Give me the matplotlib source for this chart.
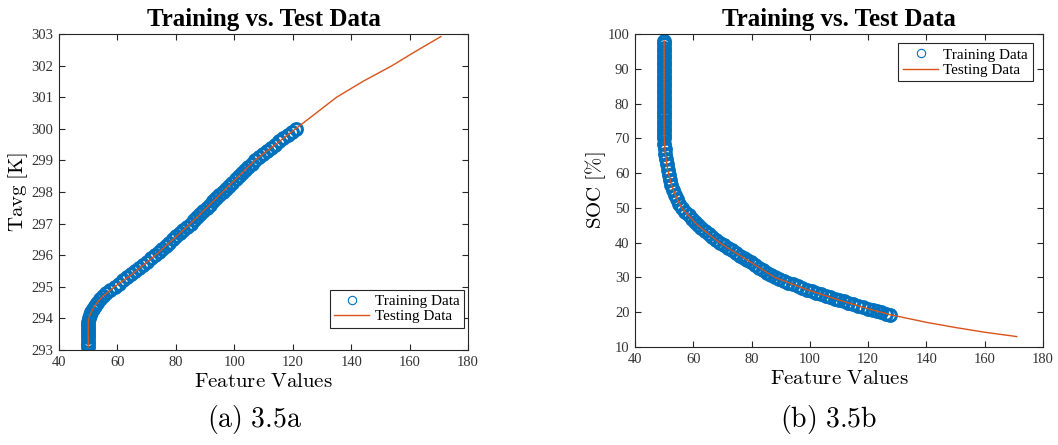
import matplotlib
matplotlib.use('Agg')
import matplotlib.pyplot as plt

# Left panel: Tavg vs feature value
tavg_train_x = [50.0, 50.0, 50.0, 50.0, 50.0, 50.0, 50.0, 50.0, 50.0,
                50.2, 50.5, 51.0, 51.6, 52.3, 53.0, 53.9, 54.9, 56.0, 57.4, 59.0,
                60.4, 61.8, 63.2, 64.6, 66.0, 67.4, 68.8, 70.2, 71.6, 73.0,
                74.2, 75.4, 76.6, 77.8, 79.0, 80.2, 81.4, 82.6, 83.8, 85.0,
                86.1, 87.2, 88.3, 89.4, 90.5, 91.6, 92.7, 93.8, 94.9, 96.0,
                97.1, 98.2, 99.3, 100.4, 101.5, 102.6, 103.7, 104.8, 105.9, 107.0,
                108.4, 109.8, 111.2, 112.6, 114.0, 115.4, 116.8, 118.2, 119.6, 121.0]
tavg_train_y = [293.1, 293.2, 293.3, 293.4, 293.5, 293.6, 293.7, 293.8, 293.9,
                294.0, 294.1, 294.2, 294.3, 294.4, 294.5, 294.6, 294.7, 294.8, 294.9, 295.0,
                295.1, 295.2, 295.3, 295.4, 295.5, 295.6, 295.7, 295.8, 295.9, 296.0,
                296.1, 296.2, 296.3, 296.4, 296.5, 296.6, 296.7, 296.8, 296.9, 297.0,
                297.1, 297.2, 297.3, 297.4, 297.5, 297.6, 297.7, 297.8, 297.9, 298.0,
                298.1, 298.2, 298.3, 298.4, 298.5, 298.6, 298.7, 298.8, 298.9, 299.0,
                299.1, 299.2, 299.3, 299.4, 299.5, 299.6, 299.7, 299.8, 299.9, 300.0]
tavg_test_x = [50.0, 50.0, 50.5, 51.6, 53.0, 55.0, 59.0, 65.0, 73.0, 79.0, 85.0,
               90.5, 96.0, 101.5, 107.0, 114.0, 121.0, 128.0, 135.0, 144.0, 154.0,
               162.0, 170.7]
tavg_test_y = [293.1, 293.9, 294.1, 294.3, 294.5, 294.7, 295.0, 295.4, 296.0, 296.5, 297.0,
               297.5, 298.0, 298.5, 299.0, 299.5, 300.0, 300.5, 301.0, 301.5, 302.0,
               302.45, 302.92]

# Right panel: SOC vs feature value
soc_train_x = [50.0, 50.0, 50.0, 50.0, 50.0, 50.0, 50.0, 50.0, 50.0, 50.0,
               50.0, 50.0, 50.0, 50.0, 50.0, 50.0, 50.0, 50.0, 50.0, 50.0,
               50.0, 50.0, 50.0, 50.0, 50.0, 50.0, 50.0, 50.0, 50.0,
               50.1, 50.2, 50.4, 50.6, 50.9, 51.2, 51.6, 52.0, 52.5, 53.1,
               53.8, 54.5, 55.2, 56.0, 57.2, 58.4, 59.6, 60.6, 61.5,
               62.8, 64.0, 65.3, 66.5, 67.8, 69.0,
               70.4, 71.8, 73.2, 74.6, 76.0, 77.3, 78.5,
               79.8, 81.2, 82.6, 84.0, 85.4, 86.7, 88.0,
               89.5, 91.0, 92.6, 94.2, 95.8, 97.4, 99.0,
               100.6, 102.2, 103.8, 105.4, 107.0, 108.5, 110.0,
               111.6, 113.2, 114.8, 116.4, 118.2, 120.0,
               121.5, 123.0, 124.5, 126.0, 127.5]
soc_train_y = [98, 97, 96, 95, 94, 93, 92, 91, 90, 89,
               88, 87, 86, 85, 84, 83, 82, 81, 80, 79,
               78, 77, 76, 75, 74, 73, 72, 71, 70,
               68.5, 67.0, 65.5, 64.0, 62.5, 61.0, 59.5, 58.0, 56.6, 55.2,
               53.8, 52.5, 51.2, 50.0, 48.9, 47.9, 46.8, 45.9, 45.0,
               44.1, 43.3, 42.5, 41.6, 40.8, 40.0,
               39.25, 38.5, 37.8, 37.05, 36.3, 35.6, 35.0,
               34.3, 33.6, 32.8, 32.1, 31.4, 30.7, 30.0,
               29.5, 29.0, 28.5, 28.0, 27.5, 27.0, 26.5,
               26.05, 25.6, 25.15, 24.7, 24.3, 23.9, 23.5,
               23.1, 22.7, 22.3, 21.85, 21.45, 21.0,
               20.65, 20.3, 19.95, 19.6, 19.3]
soc_test_x = [50.0, 50.0, 50.4, 51.2, 52.5, 53.8, 56.0, 61.5, 69.0, 78.5, 88.0,
              99.0, 110.0, 120.0, 127.5, 140.0, 150.0, 160.0, 171.0]
soc_test_y = [98.0, 70.0, 65.5, 61.0, 56.6, 53.8, 50.0, 45.0, 40.0, 35.0, 30.0,
              26.5, 23.5, 21.0, 19.3, 17.1, 15.6, 14.25, 13.0]

blue = '#0072BD'
orange = '#D95319'
axcol = '#262626'

plt.rcParams['font.family'] = ['Liberation Serif', 'DejaVu Serif']
plt.rcParams['mathtext.fontset'] = 'cm'

fig = plt.figure(figsize=(10.58, 4.45), dpi=100)
ax1 = fig.add_axes([0.0558, 0.2135, 0.3866, 0.710])
ax2 = fig.add_axes([0.6002, 0.2202, 0.3856, 0.7034])


def style(ax):
    for s in ax.spines.values():
        s.set_color(axcol)
        s.set_linewidth(0.8)
    ax.tick_params(direction='in', top=True, right=True, length=4, width=0.8,
                   colors=axcol, labelsize=10.5, labelcolor='#333333', pad=4)
    ax.set_title('Training vs. Test Data', fontsize=18, fontweight='bold', pad=6)
    ax.set_xlabel(r'$\mathrm{Feature\ Values}$', fontsize=15, labelpad=3)


def legend(ax, loc, anchor):
    leg = ax.legend(loc=loc, bbox_to_anchor=anchor, fontsize=11,
                    fancybox=False, edgecolor=axcol, framealpha=1, borderpad=0.3,
                    handlelength=2.3, handletextpad=0.35, labelspacing=0.1,
                    borderaxespad=0)
    leg.get_frame().set_linewidth(0.8)
    leg.legend_handles[0].set_markersize(6)
    leg.legend_handles[0].set_markeredgewidth(0.8)


ax1.plot(tavg_train_x, tavg_train_y, 'o', mfc='none', mec=blue, ms=8.5, mew=2.2,
         label='Training Data')
ax1.plot(tavg_test_x, tavg_test_y, '-', color=orange, lw=1.0, label='Testing Data')
ax1.set_xlim(40, 180)
ax1.set_ylim(293, 303)
ax1.set_xticks(range(40, 181, 20))
ax1.set_yticks(range(293, 304))
ax1.set_ylabel(r'$\mathrm{Tavg\ [K]}$', fontsize=15, labelpad=1)
style(ax1)
legend(ax1, 'lower right', (0.99, 0.07))

ax2.plot(soc_train_x, soc_train_y, 'o', mfc='none', mec=blue, ms=8.5, mew=2.2,
         label='Training Data')
ax2.plot(soc_test_x, soc_test_y, '-', color=orange, lw=1.0, label='Testing Data')
ax2.set_xlim(40, 180)
ax2.set_ylim(10, 100)
ax2.set_xticks(range(40, 181, 20))
ax2.set_yticks(range(10, 101, 10))
ax2.set_ylabel(r'$\mathrm{SOC\ [\%]}$', fontsize=15, labelpad=0)
style(ax2)
legend(ax2, 'upper right', (0.975, 0.97))

fig.text(0.240, 0.04, r'$\mathrm{(a)\ 3.5a}$', fontsize=20, ha='center')
fig.text(0.783, 0.04, r'$\mathrm{(b)\ 3.5b}$', fontsize=20, ha='center')

fig.savefig('out.png', dpi=100)
